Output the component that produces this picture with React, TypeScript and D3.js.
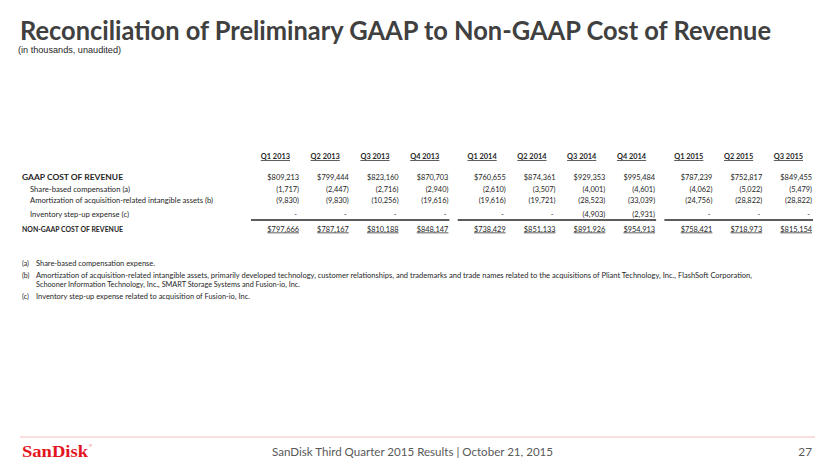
import React from "react";
import * as d3 from "d3";

const quarters = ["Q1 2013","Q2 2013","Q3 2013","Q4 2013","Q1 2014","Q2 2014","Q3 2014","Q4 2014","Q1 2015","Q2 2015","Q3 2015"];
const years = [2013, 2014, 2015];
const gaapCost = [809213, 799444, 823160, 870703, 760655, 874361, 929353, 995484, 787239, 752817, 849455];
const shareBased = [-1717, -2447, -2716, -2940, -2610, -3507, -4001, -4601, -4062, -5022, -5479];
const amortization = [-9830, -9830, -10256, -19616, -19616, -19721, -28523, -33039, -24756, -28822, -28822];
const inventoryStepUp = [0, 0, 0, 0, 0, 0, -4903, -2931, 0, 0, 0];
const nonGaapCost = [797666, 787167, 810188, 848147, 738429, 851133, 891926, 954913, 758421, 718973, 815154];

const rowLabels = [
  "GAAP COST OF REVENUE",
  "Share-based compensation (a)",
  "Amortization of acquisition-related intangible assets (b)",
  "Inventory step-up expense  (c)",
  "NON-GAAP COST OF REVENUE",
];
const notes = [
  ["(a)", "Share-based compensation expense."],
  ["(b)", "Amortization of acquisition-related intangible assets, primarily developed technology, customer relationships, and trademarks and trade names related to the acquisitions of Pliant Technology, Inc., FlashSoft Corporation,"],
  ["", "Schooner Information Technology, Inc., SMART Storage Systems and Fusion-io, Inc."],
  ["(c)", "Inventory step-up expense related to acquisition of Fusion-io, Inc."],
];

const fmt = d3.format(",");
const fmtDollar = (v: number) => "$" + fmt(v);
const fmtAdj = (v: number) => (v === 0 ? "-" : v < 0 ? `(${fmt(-v)})` : fmt(v));

export default function App() {
  const yearOf = (q: string) => +q.slice(3);
  // slot index with a small extra gap between fiscal years
  const slot = (i: number) => i + 0.15 * (yearOf(quarters[i]) - 2013);
  const x = d3.scaleLinear().domain([0, slot(10)]).range([299, 812]);
  const colX = quarters.map((_, i) => x(slot(i)));

  const rowY = d3.scaleOrdinal<string, number>().domain(["hdr", "gaap", "sbc", "amort", "inv", "non"]).range([159, 180, 192, 203, 217, 231.5]);

  const font = "Lato, 'Open Sans', sans-serif";
  const textCol = "#262626";
  const valSize = 7.4;

  const labelWidths = [101, 100, 183, 99, 101];
  const labelX = [22, 30, 30, 30, 22];
  const labelKeys = ["gaap", "sbc", "amort", "inv", "non"];

  const noteY = [266, 277.5, 287, 299];
  const noteWidths = [119, 716, 264, 214];

  return (
    <svg width={830} height={467} style={{ position: "absolute", left: 0, top: 0, background: "#fff" }}>
      <rect width={830} height={467} fill="#fff" />
      <text x={20} y={40} fontFamily={font} fontWeight={700} fontSize={26} fill="#404040" textLength={751} lengthAdjust="spacingAndGlyphs">
        Reconciliation of Preliminary GAAP to Non-GAAP Cost of Revenue
      </text>
      <text x={18} y={53} fontFamily="'Liberation Sans', Arial, sans-serif" fontSize={9} fill="#262626" textLength={103} lengthAdjust="spacingAndGlyphs">
        (in thousands, unaudited)
      </text>

      {/* headers */}
      {quarters.map((q, i) => (
        <text key={q} x={colX[i] - 9} y={rowY("hdr")} textAnchor="end" fontFamily={font} fontWeight={700} fontSize={valSize} fill={textCol} style={{ textDecoration: "underline" }}>
          {q}
        </text>
      ))}

      {/* row labels */}
      {rowLabels.map((l, k) => (
        <text key={l} x={labelX[k]} y={rowY(labelKeys[k])} fontFamily={font} fontWeight={k === 0 || k === 4 ? 700 : 400} fontSize={valSize} fill={textCol} textLength={labelWidths[k]} lengthAdjust="spacingAndGlyphs">
          {l}
        </text>
      ))}

      {/* values */}
      {gaapCost.map((v, i) => (
        <text key={"g" + i} x={colX[i]} y={rowY("gaap")} textAnchor="end" fontFamily={font} fontSize={valSize} fill={textCol}>{fmtDollar(v)}</text>
      ))}
      {shareBased.map((v, i) => (
        <text key={"s" + i} x={colX[i]} y={rowY("sbc")} textAnchor="end" fontFamily={font} fontSize={valSize} fill={textCol}>{fmtAdj(v)}</text>
      ))}
      {amortization.map((v, i) => (
        <text key={"a" + i} x={colX[i]} y={rowY("amort")} textAnchor="end" fontFamily={font} fontSize={valSize} fill={textCol}>{fmtAdj(v)}</text>
      ))}
      {inventoryStepUp.map((v, i) => (
        <text key={"i" + i} x={colX[i] - (v === 0 ? 2 : 0)} y={rowY("inv")} textAnchor="end" fontFamily={font} fontSize={valSize} fill={textCol}>{fmtAdj(v)}</text>
      ))}
      {nonGaapCost.map((v, i) => (
        <text key={"n" + i} x={colX[i]} y={rowY("non")} textAnchor="end" fontFamily={font} fontSize={valSize} fill={textCol} style={{ textDecoration: "underline" }}>{fmtDollar(v)}</text>
      ))}

      {/* total rule per fiscal year */}
      {years.map((yr) => {
        const idx = quarters.map((q, i) => (yearOf(q) === yr ? i : -1)).filter((i) => i >= 0);
        const x0 = colX[idx[0]] - 48;
        const x1 = colX[idx[idx.length - 1]] + 1;
        return <line key={yr} x1={x0} x2={x1} y1={220} y2={220} stroke="#262626" strokeWidth={1.5} />;
      })}

      {/* notes */}
      {notes.map(([tag, txt], k) => (
        <g key={k}>
          {tag && <text x={22} y={noteY[k]} fontFamily={font} fontSize={7} fill={textCol}>{tag}</text>}
          <text x={36} y={noteY[k]} fontFamily={font} fontSize={7} fill={textCol} textLength={noteWidths[k]} lengthAdjust="spacingAndGlyphs">{txt}</text>
        </g>
      ))}

      {/* footer */}
      <line x1={20} x2={815} y1={437} y2={437} stroke="#fbd3d3" strokeWidth={1.5} />
      <text x={22} y={457} fontFamily="'Liberation Serif', 'DejaVu Serif', serif" fontWeight={700} fontSize={16.5} fill="#e3141d" textLength={66} lengthAdjust="spacingAndGlyphs">SanDisk</text>
      <text x={89} y={447} fontFamily="'Liberation Sans', sans-serif" fontSize={4} fill="#e3141d">®</text>
      <text x={272} y={456} fontFamily={font} fontSize={11.8} fill="#595959" textLength={281} lengthAdjust="spacingAndGlyphs">
        SanDisk Third Quarter 2015 Results | October 21, 2015
      </text>
      <text x={812} y={456} textAnchor="end" fontFamily={font} fontSize={11.8} fill="#595959">27</text>
    </svg>
  );
}
